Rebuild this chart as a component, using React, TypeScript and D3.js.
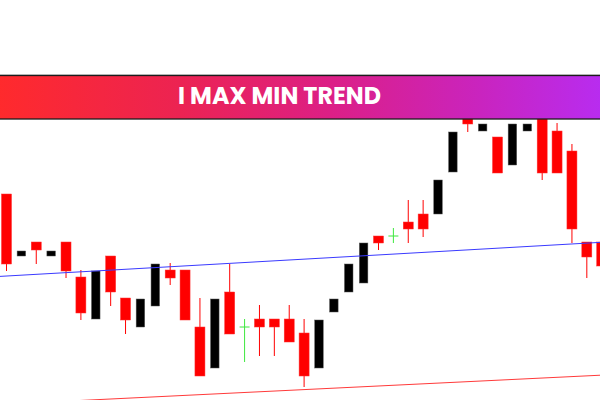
import React from "react";
import * as d3 from "d3";

const W = 600;
const H = 400;

// candle data (price units)
const opens = [
  1.1606, 1.1544, 1.1558, 1.1544, 1.1558, 1.1523, 1.1481, 1.1544, 1.1502, 1.1473,
  1.1494, 1.1530, 1.1530, 1.1473, 1.1432, 1.1508, 1.1473, 1.1481, 1.1481, 1.1481,
  1.1467, 1.1432, 1.1488, 1.1508, 1.1517, 1.1564, 1.1564, 1.1578, 1.1586, 1.1586,
  1.1628, 1.1690, 1.1669, 1.1663, 1.1635, 1.1669, 1.1700, 1.1669, 1.1649, 1.1558,
  1.1558,
];
const highs = [
  1.1606, 1.1549, 1.1558, 1.1549, 1.1558, 1.1530, 1.1529, 1.1544, 1.1502, 1.1501,
  1.1536, 1.1537, 1.1530, 1.1502, 1.1501, 1.1536, 1.1481, 1.1495, 1.1481, 1.1495,
  1.1481, 1.1480, 1.1501, 1.1536, 1.1557, 1.1564, 1.1572, 1.1600, 1.1600, 1.1620,
  1.1668, 1.1695, 1.1676, 1.1663, 1.1676, 1.1676, 1.1705, 1.1677, 1.1656, 1.1558,
  1.1558,
];
const lows = [
  1.1529, 1.1544, 1.1536, 1.1544, 1.1522, 1.1480, 1.1481, 1.1494, 1.1466, 1.1473,
  1.1494, 1.1515, 1.1480, 1.1424, 1.1432, 1.1466, 1.1438, 1.1444, 1.1444, 1.1458,
  1.1413, 1.1432, 1.1488, 1.1508, 1.1517, 1.1550, 1.1557, 1.1557, 1.1563, 1.1586,
  1.1628, 1.1668, 1.1669, 1.1627, 1.1635, 1.1669, 1.1620, 1.1627, 1.1557, 1.1522,
  1.1520,
];
const closes = [
  1.1536, 1.1549, 1.1550, 1.1549, 1.1529, 1.1487, 1.1529, 1.1508, 1.1480, 1.1501,
  1.1536, 1.1522, 1.1480, 1.1424, 1.1501, 1.1466, 1.1473, 1.1473, 1.1473, 1.1458,
  1.1424, 1.1480, 1.1501, 1.1536, 1.1557, 1.1557, 1.1564, 1.1571, 1.1571, 1.1620,
  1.1668, 1.1676, 1.1676, 1.1627, 1.1676, 1.1676, 1.1627, 1.1627, 1.1571, 1.1543,
  1.1534,
];

// trend lines: [index, price]
const upperTrend: [number, number][] = [
  [-2, 1.15223],
  [42, 1.15594],
];
const lowerTrend: [number, number][] = [
  [-2, 1.13945],
  [42, 1.14263],
];

const title = "I MAX MIN TREND";

export default function App() {
  const x = d3.scaleLinear().domain([0, 40]).range([6.5, 601.7]);
  const y = d3.scaleLinear().domain([1.14, 1.18]).range([400, 0]);

  const line = d3
    .line<[number, number]>()
    .x((d) => x(d[0]))
    .y((d) => y(d[1]));

  const candles = opens.map((o, i) => ({
    i,
    o,
    h: highs[i],
    l: lows[i],
    c: closes[i],
  }));

  return (
    <svg
      width={W}
      height={H}
      style={{ position: "fixed", left: 0, top: 0, background: "#fff" }}
    >
      <defs>
        <linearGradient id="banner" x1="0" x2="1" y1="0" y2="0">
          <stop offset="0" stopColor="#ff2a2c" />
          <stop offset="0.3" stopColor="#ec2352" />
          <stop offset="0.55" stopColor="#dc1f86" />
          <stop offset="0.8" stopColor="#c924bf" />
          <stop offset="1" stopColor="#b82cf0" />
        </linearGradient>
      </defs>
      <rect x={0} y={0} width={W} height={H} fill="#fff" />
      <g>
        {candles.map((d) => {
          const cx = x(d.i);
          const doji = d.o === d.c;
          if (doji) {
            return (
              <g key={d.i}>
                <line x1={cx} x2={cx} y1={y(d.h)} y2={y(d.l)} stroke="#3ee83e" strokeWidth={1} />
                <line x1={cx - 5} x2={cx + 5} y1={y(d.o)} y2={y(d.o)} stroke="#3ee83e" strokeWidth={1} />
              </g>
            );
          }
          const bull = d.c > d.o;
          const top = y(Math.max(d.o, d.c));
          const bot = y(Math.min(d.o, d.c));
          const color = bull ? "#000" : "#ff0000";
          const bw = bull ? 8.5 : 10;
          return (
            <g key={d.i}>
              <line x1={cx} x2={cx} y1={y(d.h)} y2={y(d.l)} stroke={color} strokeWidth={1} />
              <rect
                x={cx - bw / 2}
                y={top}
                width={bw}
                height={Math.max(1, bot - top)}
                fill={color}
                stroke={bull ? "#555" : "#ff3333"}
                strokeWidth={0.5}
              />
            </g>
          );
        })}
      </g>
      <path d={line(upperTrend) || ""} fill="none" stroke="#3a3aff" strokeWidth={1} />
      <path d={line(lowerTrend) || ""} fill="none" stroke="#ff3a3a" strokeWidth={1} />
      <line x1={0} x2={W} y1={74.5} y2={74.5} stroke="#d0d0d0" strokeWidth={1} />
      <rect x={-2} y={75.5} width={W + 4} height={43.5} fill="url(#banner)" stroke="#1c1c1c" strokeWidth={1.3} />
      <text
        x={178}
        y={104}
        fill="#fff"
        fontFamily="Poppins, 'Open Sans', sans-serif"
        fontWeight={700}
        fontSize={24}
        textLength={203}
        lengthAdjust="spacingAndGlyphs"
      >
        {title}
      </text>
    </svg>
  );
}
